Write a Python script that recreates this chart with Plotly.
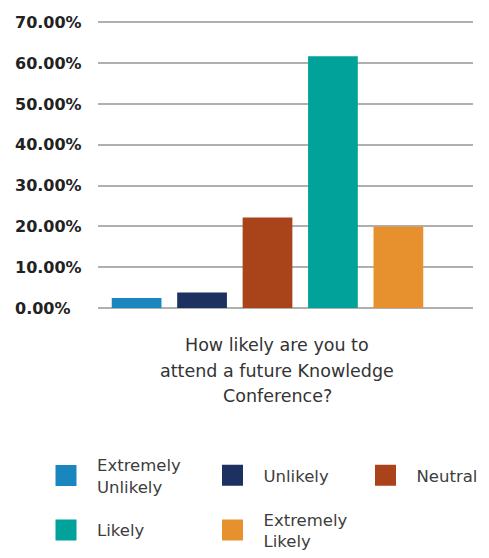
import plotly.graph_objects as go

# Survey responses
categories = ["Extremely<br>Unlikely", "Unlikely", "Neutral", "Likely", "Extremely<br>Likely"]
shares = [2.5, 3.8, 22.2, 61.7, 20.0]
colors = ["#1a86c0", "#1c3160", "#a8431a", "#00a29a", "#e6912e"]

tick_values = [0, 10, 20, 30, 40, 50, 60, 70]
tick_labels = ["0.00%", "10.00%", "20.00%", "30.00%", "40.00%", "50.00%", "60.00%", "70.00%"]

question_lines = ["How likely are you to", "attend a future Knowledge", "Conference?"]

W, H = 489, 558
FONT = "DejaVu Sans"

# plot area in pixels (0% and 70% grid lines)
left, right = 98, 473
top, bottom = 22.7, 314.3
ppu = (bottom - top) / 70.0


def y_domain(lo, hi):
    """Paper domain for a y axis spanning [lo, hi] on the shared pixel scale."""
    px_top = top - (hi - 70) * ppu
    px_bot = bottom - lo * ppu
    return [(H - px_bot) / H, (H - px_top) / H]


main_range = [-0.3, 70.3]
label_range = [-4, 74]

# legend slots: swatch centre (x, y) in pixels
legend_slots = [(66, 485), (232.5, 485), (385.5, 485), (66, 541), (232.5, 541)]
ITEM_W = 52

fig = go.Figure()
for i, (cat, val, col) in enumerate(zip(categories, shares, colors)):
    fig.add_trace(go.Bar(
        x=[cat], y=[val], name=cat, marker=dict(color=col, line=dict(width=0)),
        width=0.76, showlegend=False, legendgroup=cat,
        xaxis="x", yaxis="y", hoverinfo="skip",
    ))
    lg = "legend" if i == 0 else f"legend{i + 1}"
    fig.add_trace(go.Scatter(
        x=[None], y=[None], mode="markers", name=cat, legendgroup=cat, legend=lg,
        marker=dict(symbol="square", size=16, color=col, line=dict(color=col, width=5)),
        xaxis="x2", yaxis="y2", hoverinfo="skip",
    ))

layout = dict(
    width=W, height=H,
    margin=dict(l=0, r=0, t=0, b=0),
    paper_bgcolor="white", plot_bgcolor="white",
    barmode="overlay",
    font=dict(family=FONT, color="#333333"),
    xaxis=dict(domain=[left / W, right / W], range=[-0.59, 5.14], type="category",
               showticklabels=False, showgrid=False, zeroline=False, showline=False,
               ticks="", fixedrange=True),
    yaxis=dict(domain=y_domain(*main_range), range=main_range, tickvals=tick_values,
               showticklabels=False, showgrid=True, gridcolor="#b0b0b0", gridwidth=1.5,
               zeroline=False, showline=False, ticks=""),
    # separate axis carrying the left-aligned percentage labels
    xaxis2=dict(domain=[12 / W, 95 / W], range=[0, 1], visible=False),
    yaxis2=dict(domain=y_domain(*label_range), range=label_range, anchor="x2",
                tickvals=tick_values, ticktext=tick_labels, ticklabelposition="inside",
                ticks="", showgrid=False, zeroline=False, showline=False,
                tickfont=dict(family=FONT, size=16, color="#222222", weight="bold")),
)

for i, (cx, cy) in enumerate(legend_slots):
    key = "legend" if i == 0 else f"legend{i + 1}"
    layout[key] = dict(
        orientation="h", x=(cx - ITEM_W / 2 - 5) / W, xanchor="left",
        y=1 - cy / H, yanchor="middle", valign="middle", itemwidth=ITEM_W,
        font=dict(family=FONT, size=16.5, color="#3d3d3d"),
        bgcolor="rgba(0,0,0,0)",
    )

fig.update_layout(**layout)

line_y = [352, 378, 404]
for txt, yy in zip(question_lines, line_y):
    fig.add_annotation(text=txt, x=277 / W, y=1 - yy / H, xref="paper", yref="paper",
                       xanchor="center", yanchor="middle", showarrow=False,
                       font=dict(family=FONT, size=17.5, color="#333333"))

fig.write_html("out.html", config={"displayModeBar": False})
